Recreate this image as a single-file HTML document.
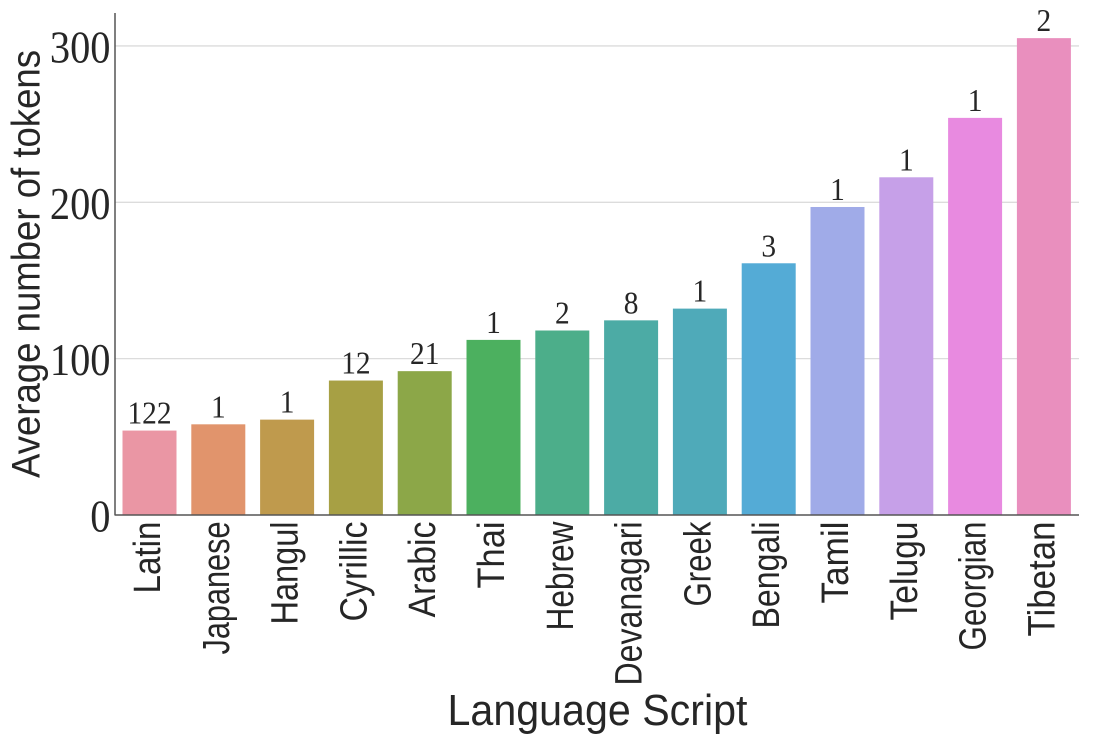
<!DOCTYPE html>
<html lang="en">
<head>
<meta charset="utf-8">
<title>Average number of tokens by language script</title>
<style>
  html, body { margin: 0; padding: 0; background: #fff; }
  #chart { display: block; width: 1101px; height: 744px; }
  text { fill: #262626; }
  .sans { font-family: "Liberation Sans", "DejaVu Sans", sans-serif; }
  .serif { font-family: "Liberation Serif", "DejaVu Serif", serif; }
</style>
</head>
<body>
<svg id="chart" xmlns="http://www.w3.org/2000/svg" width="1101" height="744" viewBox="0 0 1101 744"></svg>
<script>
const categories = ["Latin", "Japanese", "Hangul", "Cyrillic", "Arabic", "Thai", "Hebrew", "Devanagari", "Greek", "Bengali", "Tamil", "Telugu", "Georgian", "Tibetan"];
const tokenAverages = [54, 58, 61, 86, 92, 112, 118, 124.5, 132, 161, 197, 216, 254, 305];
const languageCounts = [122, 1, 1, 12, 21, 1, 2, 8, 1, 3, 1, 1, 1, 2];
const barColors = ["#ea96a4", "#e1946c", "#bf9a4d", "#a7a044", "#8ca748", "#4cb05f", "#4cae8a", "#4caba5", "#4faab9", "#54abd6", "#a0abe8", "#c6a0e8", "#e88ae0", "#e98fbe"];
const yTicks = [0, 100, 200, 300];

const svg = document.getElementById('chart');
const NS = 'http://www.w3.org/2000/svg';
const plotLeft = 115;
const plotRight = 1079;
const plotTop = 13;
const baseY = 515;
const pxPerUnit = 1.5635;
const firstCenter = 149.5;
const step = 68.8;
const barWidth = 54;

function yScale(v) { return baseY - v * pxPerUnit; }
function xScale(i) { return firstCenter + i * step; }
function make(tag, attrs, text) {
  const el = document.createElementNS(NS, tag);
  for (const k in attrs) el.setAttribute(k, attrs[k]);
  if (text !== undefined) el.textContent = text;
  svg.appendChild(el);
  return el;
}
function tickLabelLength(name) {
  const lengths = { Latin: 72, Japanese: 133, Hangul: 103, Cyrillic: 100, Arabic: 96, Thai: 67, Hebrew: 109, Devanagari: 164, Greek: 85, Bengali: 107, Tamil: 82, Telugu: 99, Georgian: 129, Tibetan: 115 };
  return lengths[name];
}

yTicks.forEach(function (t) {
  if (t > 0) {
    const g = make('line', { x1: plotLeft, x2: plotRight, y1: yScale(t), y2: yScale(t), stroke: '#dcdcdc', 'stroke-width': 1.3 });
    
    
  }
  const lab = make('text', { x: 110.5, y: yScale(t) + 16.5, 'text-anchor': 'end', 'font-size': 46, class: 'serif', textLength: String(t).length * 20.2, lengthAdjust: 'spacingAndGlyphs' }, String(t));
  
  
});

categories.forEach(function (c, i) {
  const cx = xScale(i);
  const top = yScale(tokenAverages[i]);
  const key = c.toLowerCase();
  const bar = make('rect', { x: cx - barWidth / 2, y: top, width: barWidth, height: baseY - top, fill: barColors[i] });
  
  

  const countText = String(languageCounts[i]);
  const count = make('text', { x: cx, y: top - 7, 'text-anchor': 'middle', 'font-size': 32, class: 'serif', textLength: countText.length * 14.7, lengthAdjust: 'spacingAndGlyphs' }, countText);
  
  

  const tick = make('text', { transform: 'translate(' + (cx + 10.5) + ',521.5) rotate(-90)', 'text-anchor': 'end', 'font-size': 38, class: 'sans', textLength: tickLabelLength(c), lengthAdjust: 'spacingAndGlyphs' }, c);
  
  
});

const yAxis = make('line', { x1: plotLeft, x2: plotLeft, y1: plotTop, y2: baseY + 0.5, stroke: '#555', 'stroke-width': 1.5 });



const xAxis = make('line', { x1: plotLeft, x2: plotRight, y1: baseY, y2: baseY, stroke: '#555', 'stroke-width': 1.5 });



const yTitle = make('text', { transform: 'translate(39.5,264) rotate(-90)', 'text-anchor': 'middle', 'font-size': 40, class: 'sans', textLength: 428, lengthAdjust: 'spacingAndGlyphs' }, 'Average number of tokens');



const xTitle = make('text', { x: 597.5, y: 725, 'text-anchor': 'middle', 'font-size': 44, class: 'sans', textLength: 300, lengthAdjust: 'spacingAndGlyphs' }, 'Language Script');


</script>
</body>
</html>
